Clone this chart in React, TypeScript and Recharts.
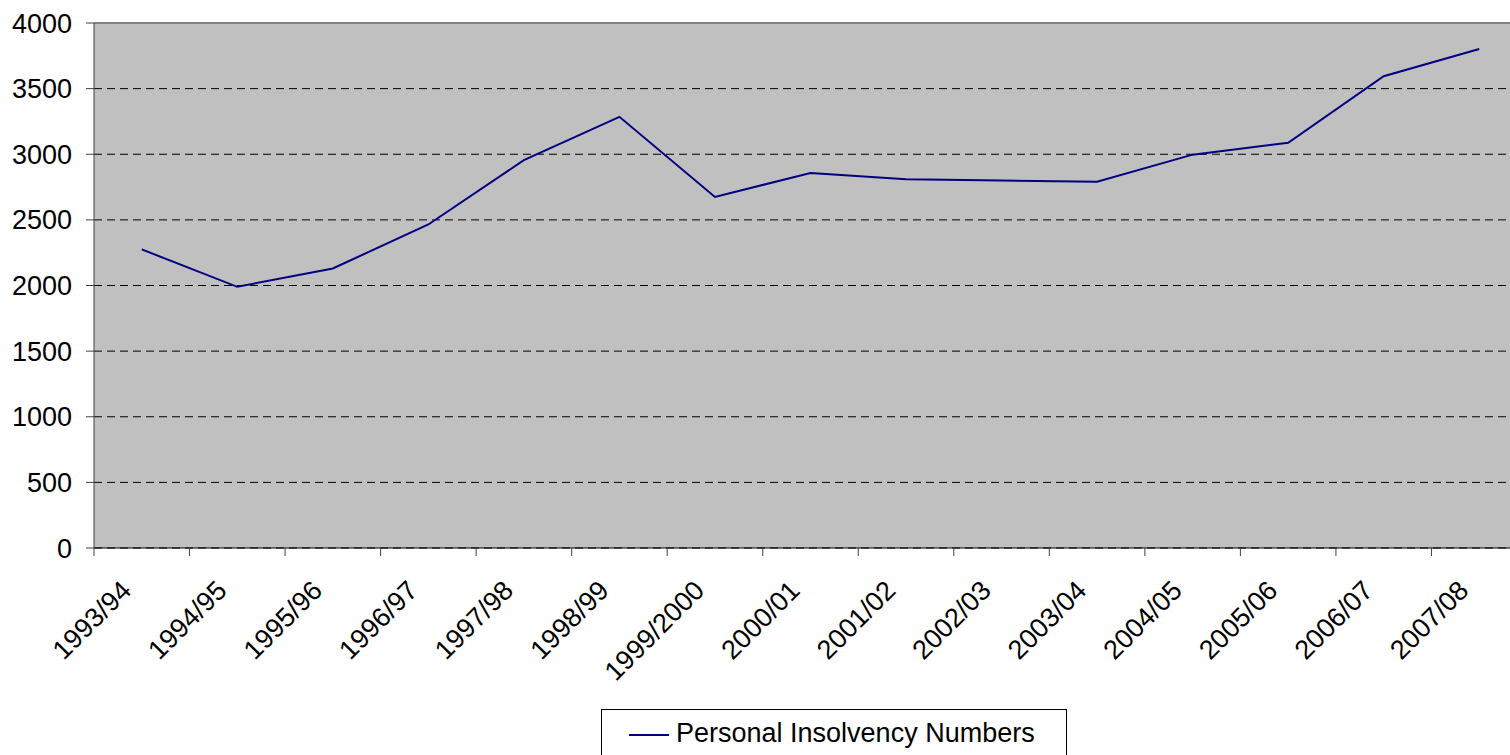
import { LineChart, Line, XAxis, YAxis, CartesianGrid, ReferenceLine } from "recharts";

const YEARS = [
  "1993/94", "1994/95", "1995/96", "1996/97", "1997/98", "1998/99", "1999/2000", "2000/01",
  "2001/02", "2002/03", "2003/04", "2004/05", "2005/06", "2006/07", "2007/08",
];
const INSOLVENCIES = [2275, 1990, 2130, 2465, 2955, 3285, 2675, 2857, 2810, 2800, 2790, 2997, 3088, 3594, 3802];
const Y_TICKS = [0, 500, 1000, 1500, 2000, 2500, 3000, 3500, 4000];
const SERIES_NAME = "Personal Insolvency Numbers";

const FONT = "'Liberation Sans', Arial, sans-serif";
const NAVY = "#000080";

const data = YEARS.map((year, i) => ({ year, value: INSOLVENCIES[i] }));

// Excel puts the tick marks between categories, so draw them at the band edges
function YearTick({ x, y, payload, index, visibleTicksCount }: any) {
  const half = payload.offset ?? 0;
  return (
    <g>
      <line x1={x - half} x2={x - half} y1={y} y2={y + 8} stroke="#404040" />
      {index === visibleTicksCount - 1 && (
        <line x1={x + half} x2={x + half} y1={y} y2={y + 8} stroke="#404040" />
      )}
      <text
        transform={`translate(${x - 9}, ${y + 44}) rotate(-45)`}
        textAnchor="end"
        fontFamily={FONT}
        fontSize={27}
        fill="#000"
      >
        {payload.value}
      </text>
    </g>
  );
}

export default function App() {
  return (
    <div
      style={{
        position: "absolute",
        left: 0,
        top: 0,
        width: 1510,
        height: 755,
        overflow: "hidden",
        background: "#fff",
        fontFamily: FONT,
      }}
    >
      <LineChart width={1527} height={755} data={data} margin={{ top: 23, right: 0, bottom: 0, left: 0 }}>
        <CartesianGrid
          horizontal
          vertical={false}
          fill="#C0C0C0"
          stroke="#000"
          strokeDasharray="8 5"
        />
        <XAxis
          dataKey="year"
          scale="band"
          interval={0}
          height={207}
          stroke="#000"
          tickLine={false}
          tickSize={0}
          tickMargin={0}
          tick={<YearTick />}
        />
        <YAxis
          width={94}
          domain={[0, 4000]}
          ticks={Y_TICKS}
          interval={0}
          tickSize={8}
          tickMargin={14}
          stroke="#404040"
          tick={{ fill: "#000", fontSize: 27, fontFamily: FONT }}
        />
        <ReferenceLine y={4000} stroke="#808080" strokeWidth={2} />
        <Line
          dataKey="value"
          name={SERIES_NAME}
          stroke={NAVY}
          strokeWidth={2}
          dot={false}
          isAnimationActive={false}
        />
      </LineChart>
      <div
        style={{
          position: "absolute",
          left: 601,
          top: 709,
          width: 466,
          height: 60,
          border: "1px solid #000",
          boxSizing: "border-box",
          background: "#fff",
        }}
      >
        <div
          style={{
            position: "absolute",
            left: 27,
            top: 24,
            width: 40,
            height: 2,
            background: NAVY,
          }}
        />
        <span
          style={{
            position: "absolute",
            left: 74,
            top: 8,
            fontSize: 27,
            lineHeight: "30px",
            color: "#000",
            whiteSpace: "nowrap",
          }}
        >
          {SERIES_NAME}
        </span>
      </div>
    </div>
  );
}
